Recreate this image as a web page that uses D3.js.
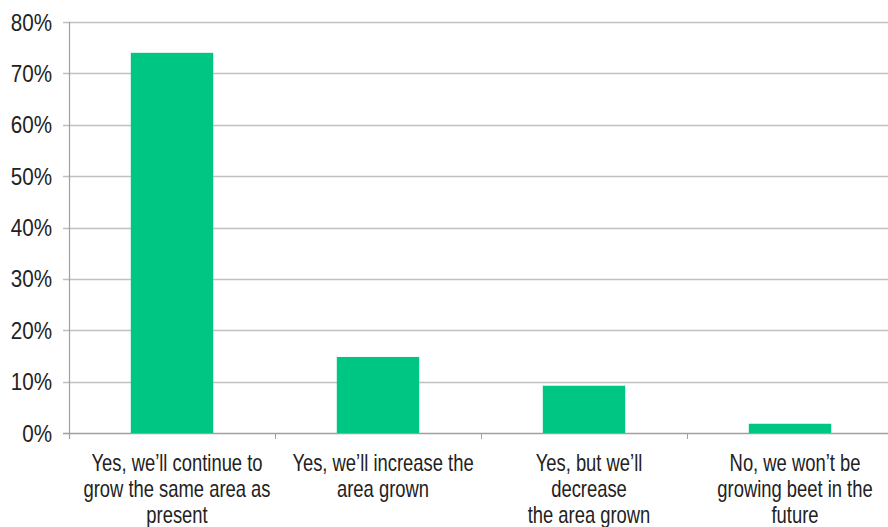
<!DOCTYPE html>
<html>
<head>
<meta charset="utf-8">
<script src="https://cdn.jsdelivr.net/npm/d3@7"></script>
<style>
  body { margin: 0; background: #fff; }
  text { font-family: "Liberation Sans", Arial, sans-serif; fill: #222; }
</style>
</head>
<body>
<div id="chart"></div>
<script>
var categories = [
  ["Yes, we\u2019ll continue to", "grow the same area as", "present"],
  ["Yes, we\u2019ll increase the", "area grown"],
  ["Yes, but we\u2019ll", "decrease", "the area grown"],
  ["No, we won\u2019t be", "growing beet in the", "future"]
];
var values = [74, 14.8, 9.2, 1.8];
var yTicks = [0, 10, 20, 30, 40, 50, 60, 70, 80];

var w = 888, h = 527;
var mLeft = 69, mRight = 893, mTop = 22, mBottom = 433;

var svg = d3.select("#chart").append("svg")
  .attr("width", w)
  .attr("height", h);

var x = d3.scaleBand()
  .domain(d3.range(values.length))
  .range([mLeft, mRight])
  .paddingInner(0.6)
  .paddingOuter(0.3);

var xTicks = d3.scaleBand()
  .domain(d3.range(values.length))
  .range([mLeft, mRight]);

var y = d3.scaleLinear()
  .domain([0, 80])
  .range([mBottom, mTop]);

// gridlines
svg.selectAll("line.grid")
  .data(yTicks)
  .enter()
  .append("line")
  .attr("class", "grid")
  .attr("x1", mLeft - 6)
  .attr("x2", w)
  .attr("y1", function(d){ return Math.round(y(d)) + 0.5; })
  .attr("y2", function(d){ return Math.round(y(d)) + 0.5; })
  .attr("stroke", function(d){ return d === 0 ? "#a0a0a0" : "#c0c0c0"; })
  .attr("stroke-width", 1.5);

// y axis line
svg.append("line")
  .attr("x1", mLeft + 0.5).attr("x2", mLeft + 0.5)
  .attr("y1", mTop).attr("y2", mBottom + 6)
  .attr("stroke", "#a0a0a0")
  .attr("stroke-width", 1.2);

// category ticks
svg.selectAll("line.xtick")
  .data(d3.range(1, values.length))
  .enter()
  .append("line")
  .attr("class", "xtick")
  .attr("x1", function(d){ return Math.round(xTicks(d)) + 0.5; })
  .attr("x2", function(d){ return Math.round(xTicks(d)) + 0.5; })
  .attr("y1", mBottom)
  .attr("y2", mBottom + 6)
  .attr("stroke", "#a0a0a0");

// bars
svg.selectAll("rect")
  .data(values)
  .enter()
  .append("rect")
  .attr("x", function(d, i){ return x(i); })
  .attr("y", function(d){ return y(d); })
  .attr("width", x.bandwidth())
  .attr("height", function(d){ return mBottom - y(d); })
  .attr("fill", "#00c684");

// y tick labels (narrowed to look condensed)
svg.selectAll("text.ylab")
  .data(yTicks)
  .enter()
  .append("text")
  .attr("class", "ylab")
  .attr("text-anchor", "end")
  .attr("font-size", 24)
  .attr("transform", function(d){
    return "translate(52," + (y(d) + 8.5) + ") scale(0.86,1)";
  })
  .text(function(d){ return d + "%"; });

// category labels
var cat = svg.selectAll("text.xlab")
  .data(categories)
  .enter()
  .append("text")
  .attr("class", "xlab")
  .attr("text-anchor", "middle")
  .attr("font-size", 23)
  .attr("transform", function(d, i){
    return "translate(" + (xTicks(i) + xTicks.bandwidth() / 2 + 5) + ",471) scale(0.8,1)";
  });

cat.selectAll("tspan")
  .data(function(d){ return d; })
  .enter()
  .append("tspan")
  .attr("x", 0)
  .attr("y", function(d, i){ return i * 26; })
  .text(function(d){ return d; });
</script>
</body>
</html>
